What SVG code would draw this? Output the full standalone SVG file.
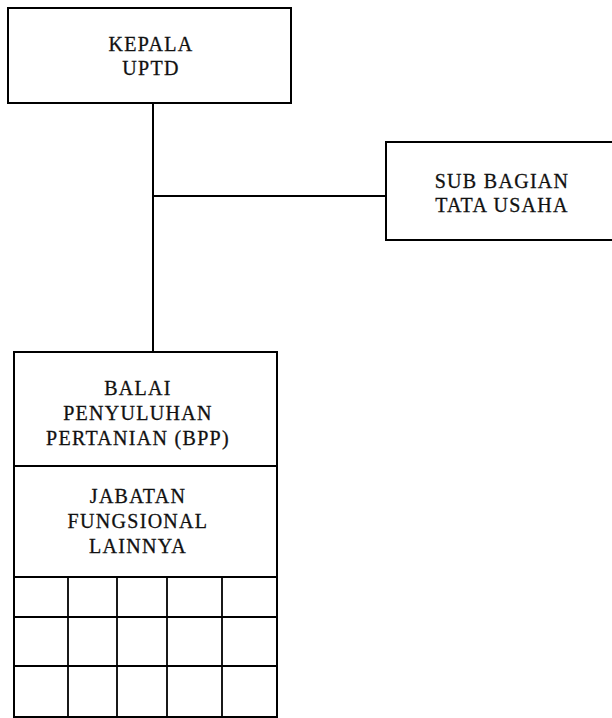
<svg xmlns="http://www.w3.org/2000/svg" width="612" height="718" viewBox="0 0 612 718">
<style>
.box{fill:none;stroke:#000;stroke-width:2}
.ln{fill:none;stroke:#000;stroke-width:2}
.grid{fill:none;stroke:#000;stroke-width:1.8}
text{font-family:"Liberation Serif","DejaVu Serif",serif;font-size:20px;letter-spacing:1.3px;fill:#111;stroke:#111;stroke-width:0.3;text-anchor:middle}
</style>
<rect width="612" height="718" fill="#fff"/>
<g id="connectors">
<line class="ln" x1="153" y1="103" x2="153" y2="352"/>
<line class="ln" x1="153" y1="196" x2="386" y2="196"/>
</g>
<g id="kepala">
<rect class="box" x="8" y="8" width="283" height="95"/>
<text x="151" y="51">KEPALA</text>
<text x="151" y="75">UPTD</text>
</g>
<g id="subbagian">
<rect class="box" x="386" y="142" width="232" height="98"/>
<text x="502" y="188">SUB BAGIAN</text>
<text x="502" y="212">TATA USAHA</text>
</g>
<g id="bpp">
<rect class="box" x="14" y="352" width="263" height="365"/>
<text x="138" y="395">BALAI</text>
<text x="138" y="420">PENYULUHAN</text>
<text x="138" y="445">PERTANIAN (BPP)</text>
<line class="grid" x1="14" y1="466" x2="276" y2="466"/>
<text x="138" y="503">JABATAN</text>
<text x="138" y="528">FUNGSIONAL</text>
<text x="138" y="553">LAINNYA</text>
<line class="grid" x1="14" y1="577" x2="276" y2="577"/>
<line class="grid" x1="14" y1="617" x2="276" y2="617"/>
<line class="grid" x1="14" y1="666" x2="276" y2="666"/>
<line class="grid" x1="68" y1="577" x2="68" y2="717"/>
<line class="grid" x1="117" y1="577" x2="117" y2="717"/>
<line class="grid" x1="167" y1="577" x2="167" y2="717"/>
<line class="grid" x1="222" y1="577" x2="222" y2="717"/>
</g>
</svg>
